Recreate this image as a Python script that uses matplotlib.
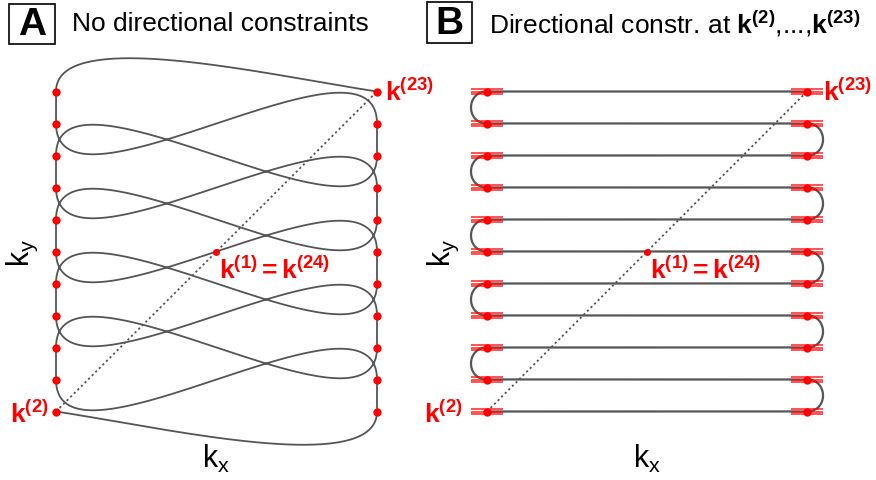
import numpy as np
import matplotlib
matplotlib.use("Agg")
import matplotlib.pyplot as plt
from matplotlib.patches import Rectangle

plt.rcParams["font.family"] = ["Liberation Sans", "DejaVu Sans"]
plt.rcParams["mathtext.fontset"] = "custom"
plt.rcParams["mathtext.rm"] = "Liberation Sans"
plt.rcParams["mathtext.it"] = "Liberation Sans:italic"
plt.rcParams["mathtext.bf"] = "Liberation Sans:bold"

# k-space sampling positions k(2) ... k(23), in visiting order
kx_path = [-5, 5, 5, -5, -5, 5, 5, -5, -5, 5, 5, -5, -5, 5, 5, -5, -5, 5, 5, -5, -5, 5]
ky_path = [-5, -5, -4, -4, -3, -3, -2, -2, -1, -1, 0, 0, 1, 1, 2, 2, 3, 3, 4, 4, 5, 5]
# k(1) = k(24)
k_start = (0, 0)

# heading of the free trajectory at k(2) and k(23) (panel A)
end_heading = (1.0, -0.15)
end_turn = 0.62      # relative tangent length on the turning side of the end arcs
loop_tangent = 2.0   # tangent length for the U-turns of panel B

RED = "#ff0000"
GRAY = "#555555"
W, H, DPI = 876, 481, 100

fig = plt.figure(figsize=(W / DPI, H / DPI), dpi=DPI)

x = np.array(kx_path, float)
y = np.array(ky_path, float)
n = len(x)


def hermite(p0, p1, m0, m1, num=80):
    t = np.linspace(0, 1, num)[:, None]
    h00 = 2 * t**3 - 3 * t**2 + 1
    h10 = t**3 - 2 * t**2 + t
    h01 = -2 * t**3 + 3 * t**2
    h11 = t**3 - t**2
    return h00 * p0 + h10 * m0 + h01 * p1 + h11 * m1


def make_axes(px0, px_center, px_scale_x):
    ax = fig.add_axes([px0 / W, 0, 438 / W, 1])
    left = (px0 - px_center) / px_scale_x
    ax.set_xlim(left, left + 438 / px_scale_x)
    ax.set_ylim((252.5 - H) / 32.0, 252.5 / 32.0)
    ax.axis("off")
    return ax


# ---------------- Panel A: free trajectory ----------------
axA = make_axes(0, 216.5, 32.1)
headA = np.tile([0.0, 1.0], (n, 1))
headA[0] = end_heading
headA[-1] = end_heading
pts = []
for i in range(n - 1):
    p0 = np.array([x[i], y[i]]); p1 = np.array([x[i + 1], y[i + 1]])
    L = np.hypot(*(p1 - p0))
    s0 = s1 = 1.0
    if i == 0:
        s1 = end_turn
    if i == n - 2:
        s0 = end_turn
    seg = hermite(p0, p1, headA[i] * L * s0, headA[i + 1] * L * s1)
    pts.append(seg if i == 0 else seg[1:])
curve = np.vstack(pts)
axA.plot(curve[:, 0], curve[:, 1], color=GRAY, lw=1.3, zorder=2)

# ---------------- Panel B: directional constraints ----------------
axB = make_axes(438, 647, 32.0)
headB = np.zeros((n, 2))
for i in range(n):
    if i + 1 < n and y[i + 1] == y[i]:
        headB[i, 0] = np.sign(x[i + 1] - x[i])
    else:
        headB[i, 0] = np.sign(x[i] - x[i - 1])
pts = []
for i in range(n - 1):
    p0 = np.array([x[i], y[i]]); p1 = np.array([x[i + 1], y[i + 1]])
    if y[i] == y[i + 1]:
        L = np.hypot(*(p1 - p0))
    else:
        L = loop_tangent
    seg = hermite(p0, p1, headB[i] * L, headB[i + 1] * L)
    pts.append(seg if i == 0 else seg[1:])
curve = np.vstack(pts)
axB.plot(curve[:, 0], curve[:, 1], color=GRAY, lw=1.6, zorder=2)

# direction constraint markers
for xi, yi in zip(x, y):
    for off in (-0.08, 0.0, 0.08):
        axB.plot([xi - 0.5, xi + 0.5], [yi + off, yi + off], color=RED,
                 lw=1.2, alpha=0.8, solid_capstyle="butt", zorder=3)

# ---------------- common elements ----------------
lab_kw = dict(color=RED, fontsize=19, textcoords="offset pixels")
for ax, gap_l, gap_r in ((axA, 7, 8), (axB, 24, 16)):
    ax.plot([x[0], k_start[0], x[-1]], [y[0], k_start[1], y[-1]],
            ls=(0, (1.2, 1.6)), color=GRAY, lw=1.3, zorder=1)
    ax.plot(x, y, "o", color=RED, ms=6, mec="none", zorder=4)
    ax.plot(*k_start, "o", color=RED, ms=5, mec="none", zorder=4)
    ax.annotate(r"$\mathbf{k^{(23)}}$", (x[-1], y[-1]), xytext=(gap_r, 0),
                ha="left", va="center", **lab_kw)
    ax.annotate(r"$\mathbf{k^{(2)}}$", (x[0], y[0]), xytext=(-gap_l, -2),
                ha="right", va="center", **lab_kw)
    ax.annotate(r"$\mathbf{k^{(1)}=k^{(24)}}$", k_start, xytext=(3, -18),
                ha="left", va="center", **lab_kw)
    ax.annotate(r"$\mathrm{k_x}$", (0, -5), xytext=(0, -46),
                textcoords="offset pixels", ha="center", va="center", fontsize=22)

axA.annotate(r"$\mathrm{k_y}$", (-5, 0), xytext=(-34, 0),
             textcoords="offset pixels", ha="center", va="center",
             fontsize=22, rotation=90)
axB.annotate(r"$\mathrm{k_y}$", (-5, 0), xytext=(-44, 0),
             textcoords="offset pixels", ha="center", va="center",
             fontsize=22, rotation=90)

# ---------------- panel headers ----------------
def header(letter, bx0, bx1, by0, by1, title, tx):
    fig.add_artist(Rectangle((bx0 / W, 1 - by1 / H), (bx1 - bx0) / W,
                             (by1 - by0) / H, transform=fig.transFigure,
                             fill=False, ec="black", lw=1.2))
    fig.text((bx0 + bx1) / 2 / W, 1 - (by0 + by1) / 2 / H, letter,
             ha="center", va="center", fontsize=28, fontweight="bold")
    fig.text(tx / W, 1 - 24 / H, title, ha="left", va="center", fontsize=19)


header("A", 9, 55, 5, 45, "No directional constraints", 72)
header("B", 427, 472, 3, 44,
       r"Directional constr. at $\mathbf{k^{(2)}}$,...,$\mathbf{k^{(23)}}$", 489)

fig.savefig("out.png", dpi=DPI)
